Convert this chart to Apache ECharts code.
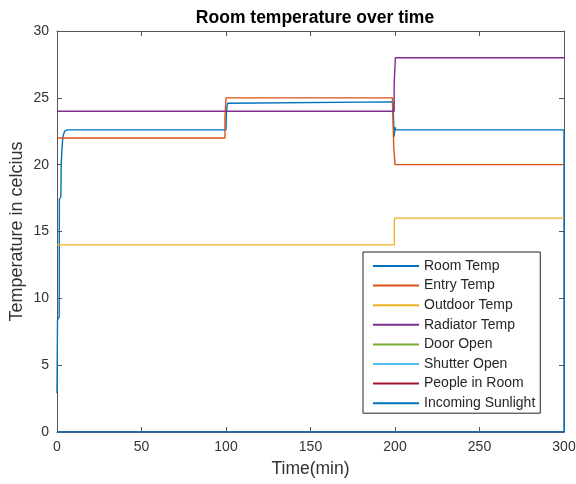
<!DOCTYPE html>
<html>
<head>
<meta charset="utf-8">
<script src="https://cdn.jsdelivr.net/npm/echarts@6/dist/echarts.min.js"></script>
<style>html,body{margin:0;padding:0;background:#fff}#c{width:576px;height:484px}</style>
</head>
<body>
<div id="c"></div>
<script>
var seriesNames = ['Room Temp','Entry Temp','Outdoor Temp','Radiator Temp','Door Open','Shutter Open','People in Room','Incoming Sunlight'];
var seriesColors = ['#0072BD','#D95319','#EDB120','#7E2F8E','#77AC30','#4DBEEE','#A2142F','#0072BD'];
var xTicks = [0,50,100,150,200,250,300];
var yTicks = [0,5,10,15,20,25,30];

var roomTemp = [[0,2.9],[0.3,8.4],[1.3,8.6],[1.4,17.4],[2.3,17.6],[2.5,20.1],[3,21.3],[3.5,22.1],[4.5,22.5],[6,22.6],[100,22.6],[100.2,23.8],[100.5,24.3],[101,24.6],[102,24.7],[198.8,24.7],[199.5,22.1],[200,22.8],[200.5,22.6],[300,22.6],[300,0]];
var entryTemp = [[0,22],[99.4,22],[99.4,23.5],[100,23.5],[100,25],[198.5,25],[198.5,24.6],[199.3,24.6],[199.3,21.2],[200,21.2],[200,20],[300,20]];
var outdoorTemp = [[0,14],[199.6,14],[199.6,15.8],[200,15.8],[200,16],[300,16]];
var radiatorTemp = [[0,24],[199.5,24],[199.5,26],[200.2,26],[200.2,28],[300,28]];
var doorOpen = [[0,0],[300,0]];
var shutterOpen = [[0,0],[300,0]];
var peopleInRoom = [[0,0],[300,0]];
var incomingSunlight = [[0,0],[300,0]];
var allData = [roomTemp, entryTemp, outdoorTemp, radiatorTemp, doorOpen, shutterOpen, peopleInRoom, incomingSunlight];

var FONT = 'Liberation Sans';
var axisCol = '#555';
var txtCol = '#333';

var chart = echarts.init(document.getElementById('c'), null, {renderer:'canvas'});
var series = seriesNames.map(function(n,i){
  return {name:n, type:'line', data:allData[i], showSymbol:false, symbol:'none',
    lineStyle:{color:seriesColors[i], width:1.4}, itemStyle:{color:seriesColors[i]},
    animation:false, z:2+i};
});
var tickX = xTicks, tickY = yTicks;
chart.setOption({
  animation:false,
  backgroundColor:'#fff',
  title:{text:'Room temperature over time', left:310, textAlign:'center', top:4,
    textStyle:{fontFamily:FONT, fontSize:17.5, fontWeight:'bold', color:'#000'}},
  grid:{left:57, right:12, top:31, bottom:52, containLabel:false, outerBoundsMode:'none'},
  legend:{orient:'vertical', left:363, top:252, data:seriesNames,
    icon:'rect', itemWidth:46, itemHeight:2, itemGap:5.6, itemTextGap:5,
    padding:[7,5,3,10], borderColor:'#262626', borderWidth:1, backgroundColor:'#fff',
    textStyle:{fontFamily:FONT, fontSize:14, color:'#262626', lineHeight:14},
    z:20},
  xAxis:[{type:'value', min:tickX[0], max:tickX[tickX.length-1], interval:50, position:'bottom',
    name:'Time(min)', nameLocation:'middle', nameGap:28, nameMoveOverlap:false,
    nameTextStyle:{fontFamily:FONT, fontSize:17.5, color:txtCol},
    axisLine:{show:true, onZero:false, lineStyle:{color:axisCol}},
    axisTick:{show:true, inside:true, length:5, lineStyle:{color:axisCol}},
    axisLabel:{fontFamily:FONT, fontSize:14, color:txtCol, margin:8},
    splitLine:{show:false}},
   {type:'value', min:tickX[0], max:tickX[tickX.length-1], interval:50, position:'top',
    axisLine:{show:true, onZero:false, lineStyle:{color:axisCol}},
    axisTick:{show:true, inside:true, length:5, lineStyle:{color:axisCol}},
    axisLabel:{show:false}, splitLine:{show:false}}],
  yAxis:[{type:'value', min:tickY[0], max:tickY[tickY.length-1], interval:5, position:'left',
    name:'Temperature in celcius', nameLocation:'middle', nameGap:31, nameRotate:90, nameMoveOverlap:false,
    nameTextStyle:{fontFamily:FONT, fontSize:18, color:txtCol},
    axisLine:{show:true, onZero:false, lineStyle:{color:axisCol}},
    axisTick:{show:true, inside:true, length:5, lineStyle:{color:axisCol}},
    axisLabel:{fontFamily:FONT, fontSize:14, color:txtCol, margin:8},
    splitLine:{show:false}},
   {type:'value', min:tickY[0], max:tickY[tickY.length-1], interval:5, position:'right',
    axisLine:{show:true, onZero:false, lineStyle:{color:axisCol}},
    axisTick:{show:true, inside:true, length:5, lineStyle:{color:axisCol}},
    axisLabel:{show:false}, splitLine:{show:false}}],
  series:series
});
</script>
</body>
</html>
